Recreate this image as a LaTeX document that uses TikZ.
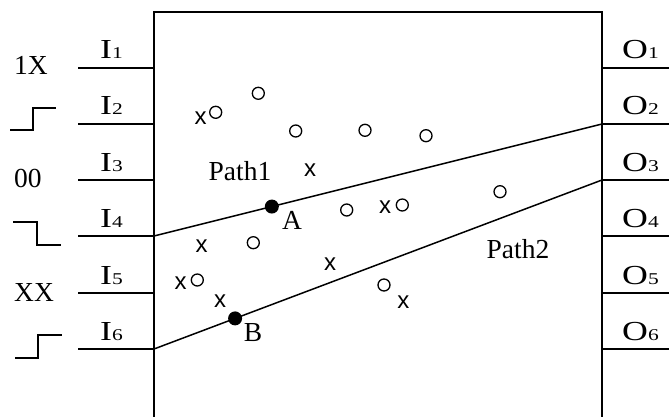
\documentclass[tikz,border=0pt]{standalone}
\usepackage{graphicx}
\usepackage{fontspec}
\setmainfont{Liberation Serif}
\newfontfamily\sansx{Liberation Sans}
\newcommand\smalldig[1]{{\fontsize{16.5}{17}\selectfont #1}}
\newcommand\wide[1]{\scalebox{1.3}[1]{#1}}
\begin{document}
\begin{tikzpicture}[x=1pt,y=-1pt,
  wire/.style={line width=1.5pt},
  lab/.style={inner sep=0pt, font=\fontsize{27.5}{29}\selectfont},
  sig/.style={inner sep=0pt, font=\fontsize{27.5}{29}\selectfont},
  hole/.style={circle, draw, line width=1.3pt, minimum size=12pt, inner sep=0pt},
  xmark/.style={inner sep=0pt, font=\sansx\fontsize{24}{24}\selectfont},
  dot/.style={circle, fill, minimum size=14pt, inner sep=0pt}]
\useasboundingbox (0,0) rectangle (669,417);
% box
\coordinate (bl) at (154,417);
\coordinate (tl) at (154,12);
\coordinate (tr) at (602,12);
\coordinate (br) at (602,417);
\draw[wire] (bl) -- (tl) -- (tr) -- (br);
% inputs and outputs
\foreach \k/\y in {1/68,2/124,3/180,4/236,5/293,6/349}{
  \coordinate (in\k) at (78,\y);
  \coordinate (bi\k) at (154,\y);
  \coordinate (bo\k) at (602,\y);
  \coordinate (out\k) at (669,\y);
  \draw[wire] (in\k) -- (bi\k);
  \draw[wire] (bo\k) -- (out\k);
  \node[lab, anchor=base west] (I\k) at (100,\y-9) {\wide{I\smalldig{\k}}};
  \node[lab, anchor=base west] (O\k) at (622,\y-9) {\wide{O\smalldig{\k}}};
}
% left signal descriptions
\node[sig, anchor=base west] (s1) at (14,75) {1X};
\node[sig, anchor=base west] (s3) at (14,187) {00};
\node[sig, anchor=base west] (s5) at (14,301) {XX};
\draw[wire] (10,130) -- (33,130) -- (33,108) -- (56,108);
\draw[wire] (13,222) -- (37,222) -- (37,245) -- (61,245);
\draw[wire] (15,358) -- (38,358) -- (38,335) -- (62,335);
% paths
\draw[wire] (bi4) -- node[pos=0.263, dot] (A) {} (bo2);
\draw[wire] (bi6) -- node[pos=0.181, dot] (B) {} (bo3);
\node[lab, anchor=center] (Alab) at (292,220) {A};
\node[lab, anchor=center] (Blab) at (253,333) {B};
\node[lab, anchor=center] (path1) at (240,171) {Path1};
\node[lab, anchor=center] (path2) at (518,249) {Path2};
% circles
\foreach \n/\px/\py in {c1/215.7/112.3, c2/258.3/93.3, c3/295.7/131, c4/365/130.3, c5/426/135.7,
  c6/346.7/210, c7/402.3/205, c8/253.3/242.7, c9/197.3/280, c10/384/285, c11/500/191.7}{
  \node[hole] (\n) at (\px,\py) {};
}
% x marks
\foreach \n/\px/\py in {x1/200.7/118.3, x2/310/170, x3/385/207.3, x4/201.7/245.7, x5/330/264,
  x6/180.7/283.3, x7/220/301, x8/403.3/301.7}{
  \node[xmark] (\n) at (\px,\py) {x};
}
\end{tikzpicture}
\end{document}
